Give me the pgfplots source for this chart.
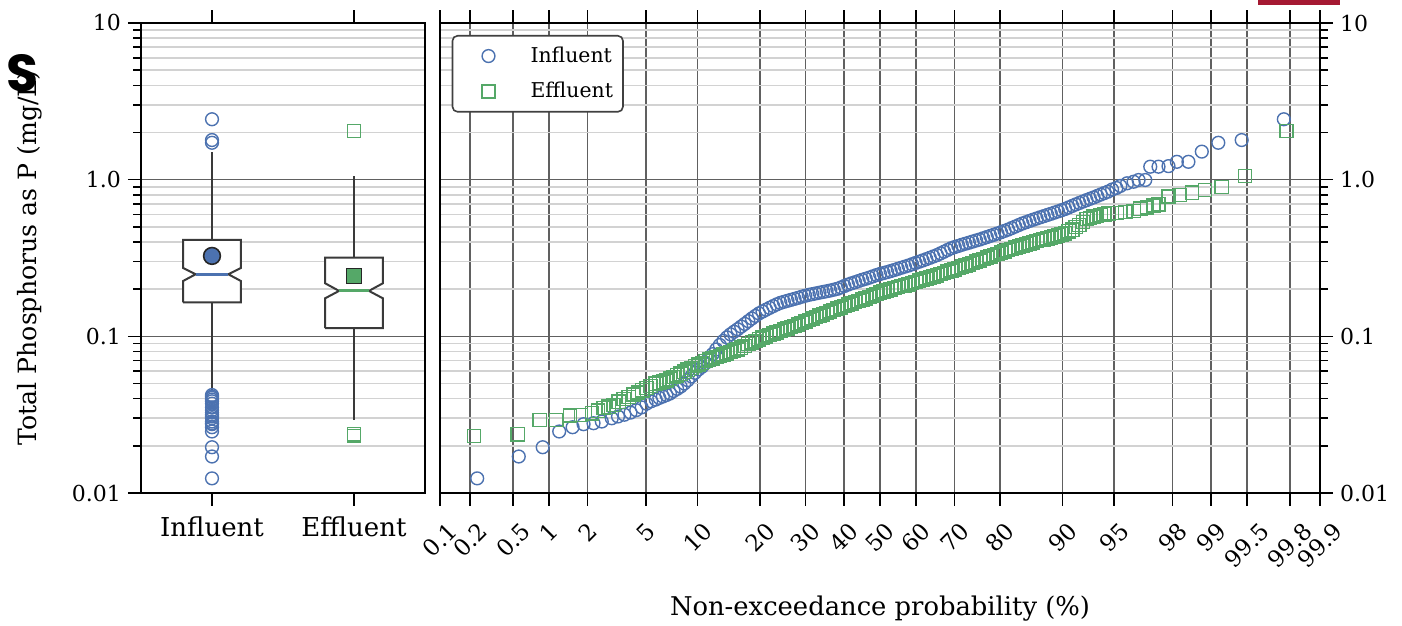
\documentclass[border=0pt]{standalone}
\usepackage{pgfplots}
\pgfplotsset{compat=1.18}
\usepackage{graphicx}
\usepackage{fontspec}
\setmainfont{DejaVu Serif}
\newfontfamily\logofont{Poppins}
\definecolor{cblue}{HTML}{4C72B0}
\definecolor{cgreen}{HTML}{55A868}
\definecolor{boxgray}{HTML}{3A3A3A}
\definecolor{mingrid}{HTML}{D2D2D2}
\definecolor{majgrid}{HTML}{606060}
\newcommand{\R}[1]{\rotatebox{45}{#1}}
\begin{document}
\begin{tikzpicture}
\useasboundingbox (0,0) rectangle (701pt,313pt);
% ---------------- left: box plots
\begin{axis}[
  scale only axis,
  at={(70.5pt,66.5pt)}, anchor=south west,
  width=142pt, height=235pt,
  ymode=log, ymin=0.01, ymax=10,
  ytick={0.01,0.1,1,10},
  yticklabels={0.01,0.1,1.0,10},
  minor ytick={0.02,0.03,0.04,0.05,0.06,0.07,0.08,0.09,0.2,0.3,0.4,0.5,0.6,0.7,0.8,0.9,2,3,4,5,6,7,8,9},
  tick align=outside,
  major tick length=6.5pt,
  minor tick length=3.8pt,
  axis line style={line width=1pt},
  tick style={black, line width=0.8pt},
  ymajorgrids, yminorgrids,
  major grid style={majgrid, line width=0.8pt},
  minor grid style={mingrid, line width=0.8pt},
  yticklabel style={font=\fontsize{11}{13}\selectfont},
  xmin=0.5, xmax=2.5,
  xtick={1,2}, xticklabels={Influent,Effluent},
  xtick pos=both, ytick pos=left, yticklabel pos=left,
  xticklabel style={font=\fontsize{13}{15}\selectfont, yshift=-2pt},
  ylabel={Total Phosphorus as P (mg/L)},
  ylabel style={font=\fontsize{12.6}{14}\selectfont, at={(axis description cs:-0.391,0.5)}, anchor=center},
]
% whiskers
\addplot[boxgray, line width=1pt] coordinates {(1,0.412) (1,1.51)};
\addplot[boxgray, line width=1pt] coordinates {(1,0.165) (1,0.0444)};
\addplot[boxgray, line width=1pt] coordinates {(2,0.318) (2,1.056)};
\addplot[boxgray, line width=1pt] coordinates {(2,0.113) (2,0.0293)};
% notched boxes
\addplot[boxgray, line width=1pt, fill=white] coordinates {(0.797,0.165) (1.203,0.165) (1.203,0.2257) (1.115,0.249) (1.203,0.273) (1.203,0.412) (0.797,0.412) (0.797,0.273) (0.885,0.249) (0.797,0.2257) (0.797,0.165)};
\addplot[boxgray, line width=1pt, fill=white] coordinates {(1.797,0.113) (2.203,0.113) (2.203,0.175) (2.105,0.195) (2.203,0.218) (2.203,0.318) (1.797,0.318) (1.797,0.218) (1.895,0.195) (1.797,0.175) (1.797,0.113)};
% medians
\addplot[cblue, line width=1.5pt] coordinates {(0.885,0.249) (1.115,0.249)};
\addplot[cgreen, line width=1.5pt] coordinates {(1.895,0.195) (2.105,0.195)};
% outliers
\addplot[only marks, mark=o, mark size=3.2pt, cblue, mark options={line width=0.7pt}] coordinates {
(1,2.43) (1,1.79) (1,1.72)
(1,0.0124) (1,0.0171) (1,0.0196) (1,0.0247) (1,0.0263) (1,0.0275) (1,0.0279) (1,0.0286) (1,0.0300) (1,0.0308) (1,0.0316) (1,0.0326) (1,0.0338) (1,0.0352) (1,0.0372) (1,0.0385) (1,0.0395) (1,0.0405) (1,0.0413) (1,0.0422)};
\addplot[only marks, mark=square, mark size=3.3pt, cgreen, mark options={line width=0.7pt}] coordinates {
(2,2.05) (2,0.0231) (2,0.0237)};
% means
\addplot[only marks, mark=*, mark size=4.2pt, mark options={fill=cblue, draw=black!85, line width=0.8pt}] coordinates {(1,0.326)};
\addplot[only marks, mark=square*, mark size=3.7pt, mark options={fill=cgreen, draw=black!85, line width=0.8pt}] coordinates {(2,0.243)};
\end{axis}
% ---------------- right: probability plot
\begin{axis}[
  scale only axis,
  at={(220pt,66.5pt)}, anchor=south west,
  width=440pt, height=235pt,
  ymode=log, ymin=0.01, ymax=10,
  ytick={0.01,0.1,1,10},
  yticklabels={0.01,0.1,1.0,10},
  minor ytick={0.02,0.03,0.04,0.05,0.06,0.07,0.08,0.09,0.2,0.3,0.4,0.5,0.6,0.7,0.8,0.9,2,3,4,5,6,7,8,9},
  tick align=outside,
  major tick length=6.5pt,
  minor tick length=3.8pt,
  axis line style={line width=1pt},
  tick style={black, line width=0.8pt},
  ymajorgrids, yminorgrids, xmajorgrids,
  major grid style={majgrid, line width=0.8pt},
  minor grid style={mingrid, line width=0.8pt},
  yticklabel style={font=\fontsize{11}{13}\selectfont},
  xmin=-3.0902, xmax=3.0902,
  xtick={-3.0902,-2.8782,-2.5758,-2.3263,-2.0537,-1.6449,-1.2816,-0.8416,-0.5244,-0.2533,0,0.2533,0.5244,0.8416,1.2816,1.6449,2.0537,2.3263,2.5758,2.8782,3.0902},
  xticklabels={\R{0.1},\R{0.2},\R{0.5},\R{1},\R{2},\R{5},\R{10},\R{20},\R{30},\R{40},\R{50},\R{60},\R{70},\R{80},\R{90},\R{95},\R{98},\R{99},\R{99.5},\R{99.8},\R{99.9}},
  xticklabel style={anchor=north, font=\fontsize{11.5}{13}\selectfont, yshift=-4pt},
  xtick pos=both, ytick pos=right, yticklabel pos=right,
  xlabel={Non-exceedance probability (\%)},
  xlabel style={font=\fontsize{12.9}{14}\selectfont, at={(axis description cs:0.5,-0.245)}, anchor=center},
  legend style={at={(axis description cs:0,1)}, anchor=north west, xshift=5.85pt, yshift=-6pt,
    draw=black!75, line width=0.8pt, rounded corners=2.5pt,
    font=\fontsize{10.2}{12}\selectfont, row sep=4.5pt, inner xsep=3pt, inner ysep=3.5pt},
  legend cell align=left,
  legend image code/.code={\path[mark repeat=2,mark phase=2,#1] plot coordinates {(0pt,0pt) (15pt,0pt) (30pt,0pt)};},
]
\addplot[draw=none, mark=o, mark size=3.2pt, mark options={draw=cblue, line width=0.7pt, solid}] coordinates {
(-2.829,0.0124) (-2.537,0.0171) (-2.369,0.0196) (-2.253,0.0247) (-2.159,0.0263) (-2.082,0.0275) (-2.012,0.0279) (-1.954,0.0286) (-1.884,0.0300) (-1.840,0.0308) (-1.795,0.0316) (-1.752,0.0326) (-1.712,0.0338) (-1.674,0.0352) (-1.640,0.0372) (-1.607,0.0385)
(-1.575,0.0395) (-1.550,0.0405) (-1.525,0.0413) (-1.500,0.0422) (-1.475,0.0432) (-1.450,0.0448) (-1.425,0.0462) (-1.400,0.0478)
(-1.375,0.0500) (-1.350,0.0525) (-1.325,0.0555) (-1.300,0.0585) (-1.275,0.0615) (-1.250,0.0640) (-1.225,0.0675) (-1.200,0.0715)
(-1.175,0.0770) (-1.150,0.0825) (-1.125,0.0880) (-1.100,0.0935) (-1.075,0.0985) (-1.050,0.1030) (-1.025,0.1070) (-1.000,0.1110)
(-0.975,0.1155) (-0.950,0.1200) (-0.925,0.1250) (-0.900,0.1300) (-0.875,0.1350) (-0.850,0.1400) (-0.825,0.1440) (-0.800,0.1480)
(-0.775,0.1520) (-0.750,0.1560) (-0.725,0.1600) (-0.700,0.1635) (-0.675,0.1660) (-0.650,0.1685) (-0.625,0.1710) (-0.600,0.1735)
(-0.575,0.1760) (-0.550,0.1790) (-0.525,0.1815) (-0.500,0.1840) (-0.475,0.1860) (-0.450,0.1880) (-0.425,0.1900) (-0.400,0.1920)
(-0.375,0.1940) (-0.350,0.1960) (-0.325,0.1985) (-0.300,0.2010) (-0.275,0.2050) (-0.250,0.2095) (-0.225,0.2140) (-0.200,0.2180)
(-0.175,0.2215) (-0.150,0.2255) (-0.125,0.2295) (-0.100,0.2330) (-0.075,0.2370) (-0.050,0.2415) (-0.025,0.2460) (0.000,0.2500)
(0.025,0.2535) (0.050,0.2570) (0.075,0.2610) (0.100,0.2650) (0.125,0.2695) (0.150,0.2740) (0.175,0.2785) (0.200,0.2830)
(0.225,0.2885) (0.250,0.2940) (0.275,0.2995) (0.300,0.3050) (0.325,0.3110) (0.350,0.3170) (0.375,0.3235) (0.400,0.3300)
(0.425,0.3385) (0.450,0.3470) (0.475,0.3560) (0.500,0.3650) (0.525,0.3715) (0.550,0.3775) (0.575,0.3840) (0.600,0.3900)
(0.625,0.3960) (0.650,0.4025) (0.675,0.4090) (0.700,0.4150) (0.725,0.4225) (0.750,0.4300) (0.775,0.4375) (0.800,0.4450)
(0.825,0.4535) (0.850,0.4620) (0.875,0.4710) (0.900,0.4800) (0.925,0.4910) (0.950,0.5020) (0.975,0.5135) (1.000,0.5250)
(1.025,0.5350) (1.050,0.5450) (1.075,0.5550) (1.100,0.5650) (1.125,0.5750) (1.150,0.5850) (1.175,0.5950) (1.200,0.6050)
(1.225,0.6160) (1.250,0.6270) (1.275,0.6385) (1.300,0.6500) (1.325,0.6650) (1.350,0.6800) (1.375,0.6950) (1.400,0.7100)
(1.425,0.7250) (1.450,0.7400) (1.475,0.7550) (1.500,0.7700) (1.525,0.7870) (1.550,0.8040) (1.575,0.8210) (1.600,0.8380)
(1.630,0.8650) (1.660,0.8850) (1.688,0.9120) (1.735,0.9480) (1.781,0.9700) (1.816,0.9950) (1.863,0.9950) (1.898,1.21) (1.956,1.21) (2.026,1.22) (2.085,1.30) (2.166,1.30) (2.260,1.51) (2.376,1.72) (2.540,1.79) (2.836,2.43)};
\addlegendentry{\hspace{4pt}Influent}
\addplot[draw=none, mark=square, mark size=3.3pt, mark options={draw=cgreen, line width=0.7pt, solid}] coordinates {
(-2.852,0.0231) (-2.544,0.0237) (-2.390,0.0293) (-2.274,0.0293) (-2.176,0.0312) (-2.099,0.0315) (-2.024,0.0323) (-1.980,0.0335) (-1.942,0.0348) (-1.905,0.0356) (-1.872,0.0365) (-1.835,0.0383) (-1.800,0.0398) (-1.765,0.0410) (-1.730,0.0425) (-1.700,0.0438) (-1.670,0.0452) (-1.640,0.0468) (-1.610,0.0482)
(-1.575,0.0498) (-1.550,0.0506) (-1.525,0.0514) (-1.500,0.0522) (-1.475,0.0536) (-1.450,0.0550) (-1.425,0.0564) (-1.400,0.0578)
(-1.375,0.0595) (-1.350,0.0612) (-1.325,0.0628) (-1.300,0.0645) (-1.275,0.0661) (-1.250,0.0677) (-1.225,0.0694) (-1.200,0.0710)
(-1.175,0.0724) (-1.150,0.0738) (-1.125,0.0751) (-1.100,0.0765) (-1.075,0.0780) (-1.050,0.0795) (-1.025,0.0810) (-1.000,0.0825)
(-0.975,0.0847) (-0.950,0.0870) (-0.925,0.0892) (-0.900,0.0915) (-0.875,0.0936) (-0.850,0.0958) (-0.825,0.0979) (-0.800,0.1000)
(-0.775,0.1020) (-0.750,0.1040) (-0.725,0.1060) (-0.700,0.1080) (-0.675,0.1101) (-0.650,0.1122) (-0.625,0.1144) (-0.600,0.1165)
(-0.575,0.1191) (-0.550,0.1218) (-0.525,0.1244) (-0.500,0.1270) (-0.475,0.1298) (-0.450,0.1325) (-0.425,0.1353) (-0.400,0.1380)
(-0.375,0.1410) (-0.350,0.1440) (-0.325,0.1470) (-0.300,0.1500) (-0.275,0.1530) (-0.250,0.1560) (-0.225,0.1590) (-0.200,0.1620)
(-0.175,0.1653) (-0.150,0.1685) (-0.125,0.1718) (-0.100,0.1750) (-0.075,0.1788) (-0.050,0.1825) (-0.025,0.1863) (0.000,0.1900)
(0.025,0.1933) (0.050,0.1965) (0.075,0.1998) (0.100,0.2030) (0.125,0.2060) (0.150,0.2090) (0.175,0.2120) (0.200,0.2150)
(0.225,0.2188) (0.250,0.2225) (0.275,0.2263) (0.300,0.2300) (0.325,0.2338) (0.350,0.2375) (0.375,0.2413) (0.400,0.2450)
(0.425,0.2495) (0.450,0.2540) (0.475,0.2585) (0.500,0.2630) (0.525,0.2680) (0.550,0.2730) (0.575,0.2780) (0.600,0.2830)
(0.625,0.2885) (0.650,0.2940) (0.675,0.2995) (0.700,0.3050) (0.725,0.3113) (0.750,0.3175) (0.775,0.3238) (0.800,0.3300)
(0.825,0.3363) (0.850,0.3425) (0.875,0.3488) (0.900,0.3550) (0.925,0.3613) (0.950,0.3675) (0.975,0.3738) (1.000,0.3800)
(1.025,0.3863) (1.050,0.3925) (1.075,0.3988) (1.100,0.4050) (1.125,0.4108) (1.150,0.4165) (1.175,0.4223) (1.200,0.4280)
(1.225,0.4348) (1.250,0.4415) (1.275,0.4483) (1.300,0.4550) (1.325,0.4675) (1.350,0.4800) (1.375,0.4975) (1.400,0.5150)
(1.425,0.5375) (1.450,0.5600) (1.475,0.5700) (1.500,0.5800) (1.525,0.5875) (1.550,0.5950) (1.575,0.6015)
(1.606,0.610) (1.664,0.612) (1.723,0.621) (1.781,0.630) (1.828,0.653) (1.875,0.665) (1.921,0.684) (1.956,0.697) (2.026,0.78) (2.108,0.80) (2.190,0.826) (2.283,0.859) (2.400,0.90) (2.563,1.056) (2.855,2.05)};
\addlegendentry{\hspace{4pt}Effluent}
\end{axis}
% overlay artefacts from the reference image
\node[font=\logofont\bfseries\fontsize{26}{26}\selectfont, inner sep=0pt] at (11.25pt,276.5pt) {S};
\fill[color={rgb,255:red,165;green,25;blue,50}] (629pt,310.5pt) rectangle (670pt,313pt);
\end{tikzpicture}
\end{document}
